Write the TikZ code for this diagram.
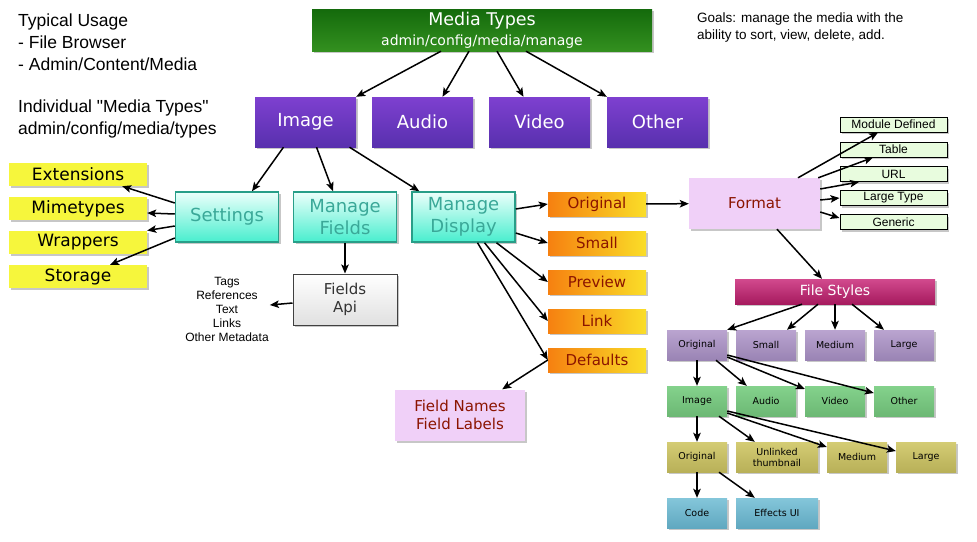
\documentclass[tikz,border=0pt]{standalone}
\usepackage{fontspec}
\setmainfont{Liberation Sans}
\newfontfamily\notefont{Liberation Sans}
\newfontfamily\boxfont{DejaVu Sans}
\usetikzlibrary{arrows.meta,shadows}

\definecolor{mtgreentop}{RGB}{20,106,12}
\definecolor{mtgreenbot}{RGB}{51,144,31}
\definecolor{typetop}{RGB}{126,64,208}
\definecolor{typebot}{RGB}{88,48,174}
\definecolor{mantop}{RGB}{236,255,251}
\definecolor{manbot}{RGB}{72,238,206}
\definecolor{manline}{RGB}{40,158,136}
\definecolor{mantext}{RGB}{58,168,152}
\definecolor{extyellow}{RGB}{246,246,60}
\definecolor{disporange}{RGB}{246,128,16}
\definecolor{dispyellow}{RGB}{250,222,40}
\definecolor{dispred}{RGB}{139,20,0}
\definecolor{fmtpink}{RGB}{240,208,248}
\definecolor{fmtgreen}{RGB}{232,252,222}
\definecolor{fstop}{RGB}{210,74,142}
\definecolor{fsbot}{RGB}{166,26,94}
\definecolor{sizetop}{RGB}{186,164,208}
\definecolor{sizebot}{RGB}{154,132,180}
\definecolor{kindtop}{RGB}{132,210,140}
\definecolor{kindbot}{RGB}{108,184,116}
\definecolor{thumbtop}{RGB}{212,204,116}
\definecolor{thumbbot}{RGB}{184,176,88}
\definecolor{codetop}{RGB}{132,198,218}
\definecolor{codebot}{RGB}{96,168,192}

\begin{document}
\begin{tikzpicture}[x=1pt, y=-1pt,
  >={Stealth[length=9pt,width=7.5pt,inset=2pt]},
  link/.style={->, line width=1.5pt},
  softshadow/.style={drop shadow={shadow xshift=2pt, shadow yshift=-2pt, opacity=0.22, fill=black}},
  note/.style={inner sep=0pt, align=left, font=\notefont\fontsize{17.5}{22}\selectfont},
  box/.style={rectangle, inner sep=0pt, align=center, softshadow},
  mediabox/.style={box, minimum width=340pt, minimum height=42pt, top color=mtgreentop, bottom color=mtgreenbot, text=white, font=\boxfont\fontsize{17.5}{20}\selectfont},
  typebox/.style={box, minimum width=101pt, minimum height=50pt, top color=typetop, bottom color=typebot, text=white, font=\boxfont\fontsize{18}{20}\selectfont},
  managebox/.style={box, minimum width=103pt, minimum height=50pt, top color=mantop, bottom color=manbot, draw=manline, line width=1.5pt, text=mantext, font=\boxfont\fontsize{18}{22}\selectfont},
  extbox/.style={box, minimum width=138pt, minimum height=23pt, fill=extyellow, font=\boxfont\fontsize{17}{19}\selectfont},
  apibox/.style={box, minimum width=104pt, minimum height=51pt, top color=white, bottom color=black!12, draw=black!75, line width=1pt, text=black!80, font=\boxfont\fontsize{15}{18}\selectfont},
  dispbox/.style={box, minimum width=98pt, minimum height=24pt, left color=disporange, right color=dispyellow, text=dispred, font=\boxfont\fontsize{15}{18}\selectfont},
  pinkbox/.style={box, minimum width=131pt, minimum height=51pt, fill=fmtpink, text=dispred, font=\boxfont\fontsize{15}{18}\selectfont},
  fmtbox/.style={box, minimum width=107pt, minimum height=15pt, fill=fmtgreen, draw=black, line width=1pt, font=\fontsize{12}{14}\selectfont},
  filebox/.style={box, minimum width=200pt, minimum height=25pt, top color=fstop, bottom color=fsbot, text=white, font=\boxfont\fontsize{14}{16}\selectfont},
  smallbox/.style={box, minimum width=60pt, minimum height=30pt, font=\boxfont\fontsize{9.5}{11}\selectfont},
  sizebox/.style={smallbox, top color=sizetop, bottom color=sizebot},
  kindbox/.style={smallbox, top color=kindtop, bottom color=kindbot},
  thumbbox/.style={smallbox, top color=thumbtop, bottom color=thumbbot},
  codebox/.style={smallbox, top color=codetop, bottom color=codebot}]

  \fill[white] (0,0) rectangle (977,541);
  \useasboundingbox (0,0) rectangle (977,541);

  % notes
  \node[note, anchor=north west] (usage) at (18,14) {Typical Usage\\- File Browser\\- Admin/Content/Media};
  \node[note, anchor=north west] (indiv) at (18,100) {Individual "Media Types"\\admin/config/media/types};
  \node[note, anchor=north west, font=\notefont\fontsize{13.5}{17}\selectfont] (goals) at (697,13) {Goals: manage the media with the\\ability to sort, view, delete, add.};

  % media types
  \node[mediabox] (mt) at (482,30) {Media Types\\{\fontsize{14}{20}\selectfont admin/config/media/manage}};
  \node[typebox] (img) at (305.5,122) {Image};
  \node[typebox] (aud) at (422.5,122) {Audio};
  \node[typebox] (vid) at (539.5,122) {Video};
  \node[typebox] (oth) at (657.5,122) {Other};

  % image type
  \node[managebox] (set) at (227,217) {Settings};
  \node[managebox] (mf) at (345,217) {Manage\\Fields};
  \node[managebox] (md) at (463.5,217) {Manage\\Display};

  \node[extbox] (ext) at (78,174.5) {Extensions};
  \node[extbox] (mime) at (78,208.5) {Mimetypes};
  \node[extbox] (wrap) at (78,242.5) {Wrappers};
  \node[extbox] (sto) at (78,276.5) {Storage};

  \node[apibox] (api) at (345,299.5) {Fields\\Api};
  \node[inner sep=1pt, align=center, font=\fontsize{12}{14}\selectfont] (tags) at (227,309) {Tags\\References\\Text\\Links\\Other Metadata};

  % display
  \node[dispbox] (orig) at (597,204) {Original};
  \node[dispbox] (small) at (597,243) {Small};
  \node[dispbox] (prev) at (597,282) {Preview};
  \node[dispbox] (lnk) at (597,321) {Link};
  \node[dispbox] (defl) at (597,360) {Defaults};
  \node[pinkbox, minimum width=130pt] (fn) at (460,415) {Field Names\\Field Labels};

  % format
  \node[pinkbox] (fmt) at (754.5,203.5) {Format};
  \node[fmtbox] (mod) at (893.5,124.5) {Module Defined};
  \node[fmtbox] (tab) at (893.5,149.5) {Table};
  \node[fmtbox] (url) at (893.5,174) {URL};
  \node[fmtbox] (ltype) at (893.5,198) {Large Type};
  \node[fmtbox] (gen) at (893.5,222) {Generic};

  % file styles
  \node[filebox] (fs) at (835,291.5) {File Styles};
  \node[sizebox] (fso) at (697,345) {Original};
  \node[sizebox] (fss) at (766,345) {Small};
  \node[sizebox] (fsm) at (835,345) {Medium};
  \node[sizebox] (fsl) at (904,345) {Large};
  \node[kindbox] (kimg) at (697,401) {Image};
  \node[kindbox] (kaud) at (766,401) {Audio};
  \node[kindbox] (kvid) at (835,401) {Video};
  \node[kindbox] (koth) at (904,401) {Other};
  \node[thumbbox] (tho) at (697,457) {Original};
  \node[thumbbox, minimum width=82pt] (thu) at (777,457) {Unlinked\\thumbnail};
  \node[thumbbox] (thm) at (857,457) {Medium};
  \node[thumbbox] (thl) at (926,457) {Large};
  \node[codebox] (code) at (697,513) {Code};
  \node[codebox, minimum width=82pt] (eff) at (777,513) {Effects UI};

  % connectors
  \draw[link] ([xshift=-41pt]mt.south) -- (img.north east);
  \draw[link] ([xshift=-13pt]mt.south) -- ([xshift=20pt]aud.north);
  \draw[link] ([xshift=15pt]mt.south) -- ([xshift=-16pt]vid.north);
  \draw[link] ([xshift=44pt]mt.south) -- (oth.north west);

  \draw[link] ([xshift=-22pt]img.south) -- ([xshift=25pt]set.north);
  \draw[link] ([xshift=11pt]img.south) -- ([xshift=-12pt]mf.north);
  \draw[link] ([xshift=44pt]img.south) -- ([xshift=8pt]md.north west);

  \draw[link] ([yshift=14pt]set.west) -- ([xshift=-25pt]ext.south east);
  \draw[link] ([yshift=3pt]set.west) -- ([yshift=-4.5pt]mime.east);
  \draw[link] ([yshift=-9pt]set.west) -- ([yshift=12pt]wrap.east);
  \draw[link] ([yshift=-21pt]set.west) -- ([xshift=32pt]sto.north);

  \draw[link] (mf) -- (api);
  \draw[link] ([yshift=-3.5pt]api.west) -- ([yshift=4pt]tags.east);

  \draw[link] ([yshift=8pt]md.east) -- (orig.west);
  \draw[link] ([yshift=-16pt]md.east) -- (small.west);
  \draw[link] ([xshift=33pt]md.south) -- (prev.west);
  \draw[link] ([xshift=21pt]md.south) -- (lnk.west);
  \draw[link] ([xshift=14pt]md.south) -- (defl.west);
  \draw[link] (defl.west) -- ([xshift=-23pt]fn.north east);
  \draw[link] (orig) -- (fmt);

  \draw[link] ([xshift=43.5pt]fmt.north) -- ([xshift=-15.5pt]mod.south);
  \draw[link] ([xshift=-2pt]fmt.north east) -- ([xshift=-20.5pt]tab.south);
  \draw[link] ([yshift=14.5pt]fmt.east) -- ([xshift=-34.5pt]url.south);
  \draw[link] ([yshift=3.5pt]fmt.east) -- (ltype.west);
  \draw[link] ([yshift=-8.5pt]fmt.east) -- ([yshift=4pt]gen.west);
  \draw[link] ([xshift=22.5pt]fmt.south) -- ([xshift=-13pt]fs.north);

  \draw[link] ([xshift=-33pt]fs.south) -- (fso.north east);
  \draw[link] ([xshift=-17pt]fs.south) -- ([xshift=21pt]fss.north);
  \draw[link] (fs.south) -- (fsm.north);
  \draw[link] ([xshift=17pt]fs.south) -- ([xshift=-20pt]fsl.north);

  \draw[link] (fso) -- (kimg);
  \draw[link] ([xshift=19pt]fso.south) -- ([xshift=11pt]kaud.north west);
  \draw[link] ([yshift=-12pt]fso.east) -- ([yshift=12pt]kvid.west);
  \draw[link] ([yshift=-10pt]fso.east) -- ([yshift=8pt]koth.west);

  \draw[link] (kimg) -- (tho);
  \draw[link] ([xshift=22pt]kimg.south) -- ([xshift=19pt]thu.north west);
  \draw[link] ([yshift=-12pt]kimg.east) -- ([yshift=10pt]thm.west);
  \draw[link] ([yshift=-10pt]kimg.east) -- ([yshift=6pt]thl.west);

  \draw[link] (tho) -- (code);
  \draw[link] ([xshift=22pt]tho.south) -- ([xshift=19pt]eff.north west);
\end{tikzpicture}
\end{document}
